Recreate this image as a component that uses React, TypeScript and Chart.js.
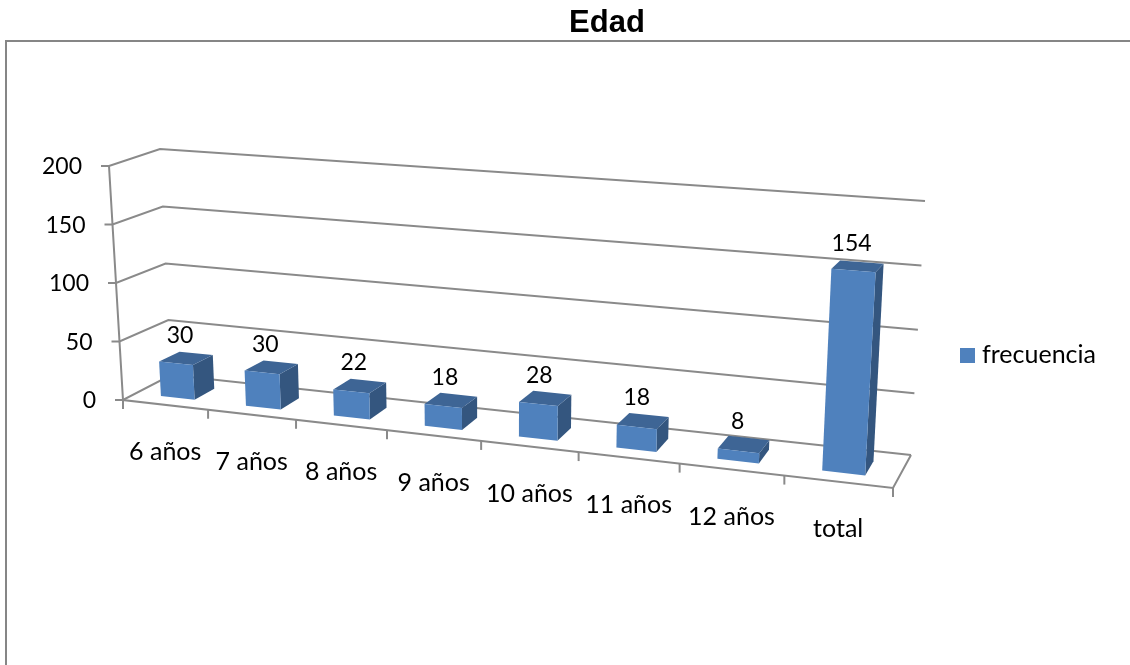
import React, { useEffect, useRef } from "react";
import { Chart, registerables } from "chart.js";

Chart.register(...registerables);

const categories = ["6 años", "7 años", "8 años", "9 años", "10 años", "11 años", "12 años", "total"];
const frecuencia = [30, 30, 22, 18, 28, 18, 8, 154];
const seriesName = "frecuencia";
const yTickStep = 50;
const yMax = 200;

const FONT = "Lato";
const GRID = "#8a8a8a";
const FRONT = "#4f81bd";
const SIDE = "#34567f";
const TOP = "#3e6595";

// Screen position of the eight corners of the 3D box (u: category, v: value, z: depth).
const BOX = {
  fbl: [123, 400], fbr: [893, 488], btl: [160, 149], bbl: [171, 375],
  bbr: [911, 455], btr: [925, 201], ftl: [109, 166], ftr: [908, 218],
};
const Z0 = 0.27;
const Z1 = 0.7;
const K = 1.15;

const warp = (u: number) => u / (u + K * (1 - u));
const mix = (a: number[], b: number[], t: number) => [a[0] + (b[0] - a[0]) * t, a[1] + (b[1] - a[1]) * t];

function project(u: number, v: number, z: number) {
  const w = warp(u);
  const fb = mix(BOX.fbl, BOX.fbr, w);
  const ft = mix(BOX.ftl, BOX.ftr, w);
  const bb = mix(BOX.bbl, BOX.bbr, w);
  const bt = mix(BOX.btl, BOX.btr, w);
  return mix(mix(fb, ft, v), mix(bb, bt, Math.pow(v, 1.02)), z);
}

function line(ctx: CanvasRenderingContext2D, pts: number[][]) {
  ctx.beginPath();
  pts.forEach((p, i) => (i ? ctx.lineTo(p[0], p[1]) : ctx.moveTo(p[0], p[1])));
  ctx.stroke();
}

function face(ctx: CanvasRenderingContext2D, pts: number[][], color: string) {
  ctx.fillStyle = color;
  ctx.beginPath();
  pts.forEach((p, i) => (i ? ctx.lineTo(p[0], p[1]) : ctx.moveTo(p[0], p[1])));
  ctx.closePath();
  ctx.fill();
}

const box3d = {
  id: "box3d",
  afterLayout(chart: any) {
    const t = chart.titleBlock;
    const d = 607 - (t.left + t.right) / 2;
    t.left += d;
    t.right += d;
  },
  beforeDraw(chart: any) {
    const ctx = chart.ctx;
    ctx.save();
    ctx.fillStyle = "#fff";
    ctx.fillRect(0, 0, chart.width, chart.height);
    ctx.strokeStyle = "#868686";
    ctx.lineWidth = 2;
    line(ctx, [[6, chart.height], [6, 41], [chart.width, 41]]);
    ctx.restore();
  },
  beforeDatasetsDraw(chart: any) {
    const ctx = chart.ctx;
    const ys = chart.scales.y;
    const xs = chart.scales.x;
    const vOf = (p: number) => (ys.bottom - p) / (ys.bottom - ys.top);
    ctx.save();
    ctx.strokeStyle = GRID;
    ctx.lineWidth = 2;
    ctx.lineJoin = "miter";
    ctx.fillStyle = "#000";
    ctx.font = `23px ${FONT}`;
    ys.ticks.forEach((t: any) => {
      const v = vOf(ys.getPixelForValue(t.value));
      const f = project(0, v, 0);
      line(ctx, [[f[0] - 8, f[1]], f, project(0, v, 1), project(1, v, 1)]);
      ctx.textAlign = "right";
      ctx.textBaseline = "middle";
      ctx.fillText(String(t.label), f[0] - 27, f[1] + 1);
    });
    line(ctx, [project(0, 1, 0), project(0, 0, 0), project(1, 0, 0), project(1, 0, 1)]);
    const half = (xs.right - xs.left) / categories.length / 2;
    const uOf = (p: number) => (p - xs.left) / (xs.right - xs.left);
    const stub = (u: number) => {
      const p = project(u, 0, 0);
      line(ctx, [p, [p[0], p[1] + 9]]);
    };
    ctx.font = `25px ${FONT}`;
    categories.forEach((c, i) => {
      const px = xs.getPixelForValue(i);
      stub(uOf(px - half));
      const p = project(uOf(px), 0, 0);
      ctx.textAlign = "center";
      ctx.textBaseline = "middle";
      ctx.fillText(c, p[0], p[1] + 47);
    });
    stub(1);
    ctx.restore();
  },
  beforeDatasetDraw() {
    return false;
  },
  afterDatasetsDraw(chart: any) {
    const ctx = chart.ctx;
    const ys = chart.scales.y;
    const xs = chart.scales.x;
    const U = (p: number) => (p - xs.left) / (xs.right - xs.left);
    const V = (p: number) => (ys.bottom - p) / (ys.bottom - ys.top);
    ctx.save();
    chart.getDatasetMeta(0).data.forEach((el: any, i: number) => {
      const u0 = U(el.x - el.width / 2);
      const u1 = U(el.x + el.width / 2);
      const v = V(el.y);
      const a = project(u0, 0, Z0), b = project(u1, 0, Z0), c = project(u1, v, Z0), d = project(u0, v, Z0);
      const e = project(u1, 0, Z1), f = project(u1, v, Z1), g = project(u0, v, Z1);
      face(ctx, [b, e, f, c], SIDE);
      face(ctx, [d, c, f, g], TOP);
      face(ctx, [a, b, c, d], FRONT);
      const top = project(U(el.x), v, (Z0 + Z1) / 2);
      ctx.fillStyle = "#000";
      ctx.font = `23px ${FONT}`;
      ctx.textAlign = "center";
      ctx.textBaseline = "middle";
      ctx.fillText(String(frecuencia[i]), top[0] - 6, top[1] - 23);
    });
    // legend
    const ds = chart.data.datasets[0];
    ctx.fillStyle = ds.backgroundColor;
    ctx.fillRect(960, 348, 15, 15);
    ctx.fillStyle = "#000";
    ctx.font = `25px ${FONT}`;
    ctx.textAlign = "left";
    ctx.textBaseline = "middle";
    ctx.fillText(ds.label, 982, 355);
    ctx.restore();
  },
};

export default function App() {
  const ref = useRef<HTMLCanvasElement>(null);
  useEffect(() => {
    document.body.style.margin = "0";
    const chart = new Chart(ref.current!, {
      type: "bar",
      data: {
        labels: categories,
        datasets: [{
          label: seriesName,
          data: frecuencia,
          backgroundColor: FRONT,
          categoryPercentage: 0.8,
          barPercentage: 0.5,
        }],
      },
      options: {
        responsive: false,
        animation: false,
        layout: { padding: { left: 100, right: 180, bottom: 260 } },
        scales: {
          x: { display: false },
          y: { min: 0, max: yMax, ticks: { stepSize: yTickStep, display: false }, grid: { display: false }, border: { display: false } },
        },
        plugins: {
          title: {
            display: true,
            text: "Edad",
            color: "#000",
            font: { family: "Liberation Sans", size: 31, weight: "bold" },
            padding: { top: 5, bottom: 120 },
          },
          legend: { display: false },
          tooltip: { enabled: false },
        },
      },
      plugins: [box3d],
    } as any);
    return () => chart.destroy();
  }, []);
  return <canvas ref={ref} width={1130} height={665} style={{ display: "block" }} />;
}
